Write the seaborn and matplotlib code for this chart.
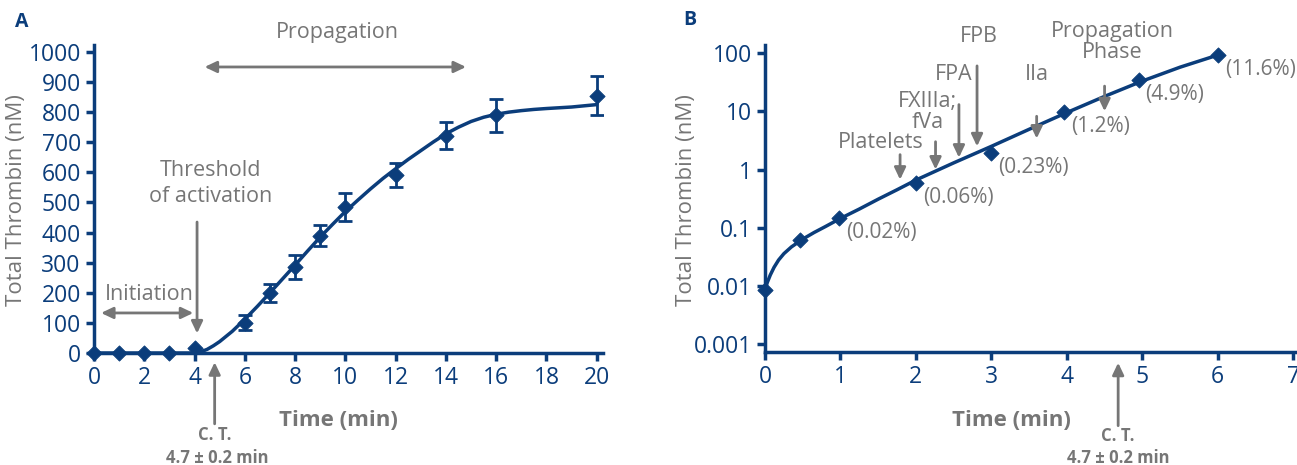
import matplotlib
matplotlib.use('Agg')
import matplotlib.pyplot as plt
import seaborn as sns
import pandas as pd

# panel A: thrombin generation, linear scale
a_time = [0, 1, 2, 3, 4, 6, 7, 8, 9, 10, 12, 14, 16, 20]
a_thrombin = [0, 0, 0, 0, 15, 100, 200, 285, 390, 485, 592, 722, 790, 855]
a_err = [0, 0, 0, 0, 0, 25, 30, 40, 35, 45, 40, 45, 55, 65]
a_curve_t = [0, 4, 4.25, 4.5, 4.75, 5, 5.5, 6, 6.5, 7, 7.5, 8, 8.5, 9, 9.5, 10, 10.5, 11, 11.5,
             12, 12.5, 13, 13.5, 14, 14.5, 15, 15.5, 16, 16.5, 17, 17.5, 18, 19, 20]
a_curve_y = [0, 0, 4, 12, 24, 38, 72, 112, 155, 200, 246, 292, 339, 385, 428, 470, 508, 545, 580,
             612, 643, 672, 701, 728, 750, 769, 783, 793, 800, 805, 809, 812, 817, 825]

# panel B: early phase, log scale
b_time = [0, 0.47, 0.98, 2.0, 3.0, 3.96, 4.95, 6.0]
b_thrombin = [0.0085, 0.062, 0.15, 0.58, 1.9, 9.8, 34, 92]
b_pct = ['', '', '(0.02%)', '(0.06%)', '(0.23%)', '(1.2%)', '(4.9%)', '(11.6%)']
b_curve_t = [0, 0.03, 0.07, 0.12, 0.18, 0.25, 0.35, 0.5, 0.65, 0.8, 1.0, 1.25, 1.5, 1.75, 2.0,
             2.5, 3.0, 3.5, 4.0, 4.5, 5.0, 5.5, 6.0]
b_curve_y = [0.0085, 0.0115, 0.0155, 0.021, 0.028, 0.036, 0.047, 0.064, 0.083, 0.105, 0.145,
             0.21, 0.31, 0.45, 0.66, 1.3, 2.5, 4.9, 9.5, 18, 33, 57, 92]

blue = '#0b3d7b'
grey = '#767676'

sns.set_style('ticks')
plt.rcParams['font.family'] = ['Open Sans', 'DejaVu Sans']

fig = plt.figure(figsize=(12.97, 4.65), dpi=100)
axA = fig.add_axes([94 / 1297, 1 - 353 / 465, 509 / 1297, 308 / 465])
axB = fig.add_axes([765 / 1297, 1 - 352 / 465, 532 / 1297, 307 / 465])

dfA = pd.DataFrame({'t': a_time, 'y': a_thrombin})
dfA_curve = pd.DataFrame({'t': a_curve_t, 'y': a_curve_y})
dfB = pd.DataFrame({'t': b_time, 'y': b_thrombin})
dfB_curve = pd.DataFrame({'t': b_curve_t, 'y': b_curve_y})

arrow_kw = dict(arrowstyle='-|>,head_length=0.42,head_width=0.2', color=grey, lw=2,
                mutation_scale=17, shrinkA=0, shrinkB=0)
darrow_kw = dict(arrowstyle='<|-|>,head_length=0.42,head_width=0.2', color=grey, lw=2,
                 mutation_scale=17, shrinkA=0, shrinkB=0)
note_fs = 15.5

# ---- panel A ----
sns.lineplot(data=dfA_curve, x='t', y='y', ax=axA, color=blue, lw=2.5, clip_on=False)
axA.errorbar(a_time[5:], a_thrombin[5:], yerr=a_err[5:], fmt='none', ecolor=blue,
             elinewidth=2, capsize=5, capthick=2)
sns.scatterplot(data=dfA, x='t', y='y', ax=axA, marker='D', s=60, color=blue,
                edgecolor=blue, zorder=5, clip_on=False)
axA.set_xlim(0, 20.25)
axA.set_ylim(0, 1023)
axA.set_xticks(range(0, 21, 2))
axA.set_yticks(range(0, 1001, 100))

axA.annotate('', xy=(4.4, 950), xytext=(14.8, 950), arrowprops=darrow_kw)
axA.text(9.7, 1030, 'Propagation', color=grey, fontsize=note_fs, ha='center', va='bottom')
axA.annotate('', xy=(0.28, 133), xytext=(3.95, 133), arrowprops=darrow_kw)
axA.text(2.2, 160, 'Initiation', color=grey, fontsize=note_fs, ha='center', va='bottom')
axA.annotate('', xy=(4.1, 65), xytext=(4.1, 435), arrowprops=arrow_kw)
axA.text(4.65, 485, 'Threshold\nof activation', color=grey, fontsize=note_fs, ha='center',
         va='bottom', linespacing=1.3)
tA = axA.get_xaxis_transform()
axA.annotate('', xy=(4.8, -0.03), xytext=(4.8, -0.23), xycoords=tA, textcoords=tA,
             arrowprops=arrow_kw, annotation_clip=False)
axA.text(4.8, -0.265, 'C. T.', transform=tA, color=grey, fontsize=12, fontweight='bold',
         ha='center', va='center')
axA.text(4.9, -0.34, '4.7 ± 0.2 min', transform=tA, color=grey, fontsize=12,
         fontweight='bold', ha='center', va='center')

# ---- panel B ----
sns.lineplot(data=dfB_curve, x='t', y='y', ax=axB, color=blue, lw=2.5, clip_on=False)
sns.scatterplot(data=dfB, x='t', y='y', ax=axB, marker='D', s=60, color=blue,
                edgecolor=blue, zorder=5, clip_on=False)
axB.set_yscale('log')
axB.set_xlim(0, 7.05)
axB.set_ylim(0.00074, 137)
axB.set_xticks(range(0, 8))
axB.set_yticks([0.001, 0.01, 0.1, 1, 10, 100])
axB.set_yticklabels(['0.001', '0.01', '0.1', '1', '10', '100'])
axB.minorticks_off()

for t, y, s in zip(b_time, b_thrombin, b_pct):
    if s:
        axB.annotate(s, xy=(t, y), xytext=(5, -3), textcoords='offset points', color=grey,
                     fontsize=15, ha='left', va='top')

# (label, text x, text y centre, arrow x, arrow top, arrow tip)
b_events = [
    ('Platelets', 1.53, 2.88, 1.79, 1.8, 0.67),
    ('FXIIIa;\nfVa', 2.15, 9.6, 2.26, 3.0, 1.0),
    ('FPA', 2.5, 42, 2.57, 13, 1.6),
    ('FPB', 2.84, 188, 2.81, 60, 2.5),
    ('IIa', 3.6, 42, 3.6, 8.2, 3.4),
    ('Propagation\nPhase', 4.6, 154, 4.5, 27, 10),
]
for label, tx, ty, ax_, y0, y1 in b_events:
    axB.text(tx, ty, label, color=grey, fontsize=note_fs, ha='center', va='center',
             linespacing=1.0)
    axB.annotate('', xy=(ax_, y1), xytext=(ax_, y0), arrowprops=arrow_kw)

tB = axB.get_xaxis_transform()
axB.annotate('', xy=(4.68, -0.035), xytext=(4.68, -0.24), xycoords=tB, textcoords=tB,
             arrowprops=arrow_kw, annotation_clip=False)
axB.text(4.68, -0.275, 'C. T.', transform=tB, color=grey, fontsize=12, fontweight='bold',
         ha='center', va='center')
axB.text(4.68, -0.345, '4.7 ± 0.2 min', transform=tB, color=grey, fontsize=12,
         fontweight='bold', ha='center', va='center')

for ax in (axA, axB):
    sns.despine(ax=ax)
    for side in ('left', 'bottom'):
        ax.spines[side].set_color(blue)
        ax.spines[side].set_linewidth(2.5)
    ax.tick_params(colors=blue, labelsize=16.5, width=2.5, length=6, direction='out')
    ax.set_xlabel('Time (min)', color=grey, fontsize=16, fontweight='bold')
    ax.set_ylabel('Total Thrombin (nM)', color=grey, fontsize=16)

axA.xaxis.set_label_coords(0.481, -0.185)
axA.yaxis.set_label_coords(-0.131, 0.497)
axB.xaxis.set_label_coords(0.464, -0.189)
axB.yaxis.set_label_coords(-0.127, 0.495)

fig.text(22 / 1297, 1 - 22 / 465, 'A', color=blue, fontsize=14, fontweight='bold',
         ha='center', va='center')
fig.text(690 / 1297, 1 - 20 / 465, 'B', color=blue, fontsize=14, fontweight='bold',
         ha='center', va='center')

fig.savefig('out.png', dpi=100)
